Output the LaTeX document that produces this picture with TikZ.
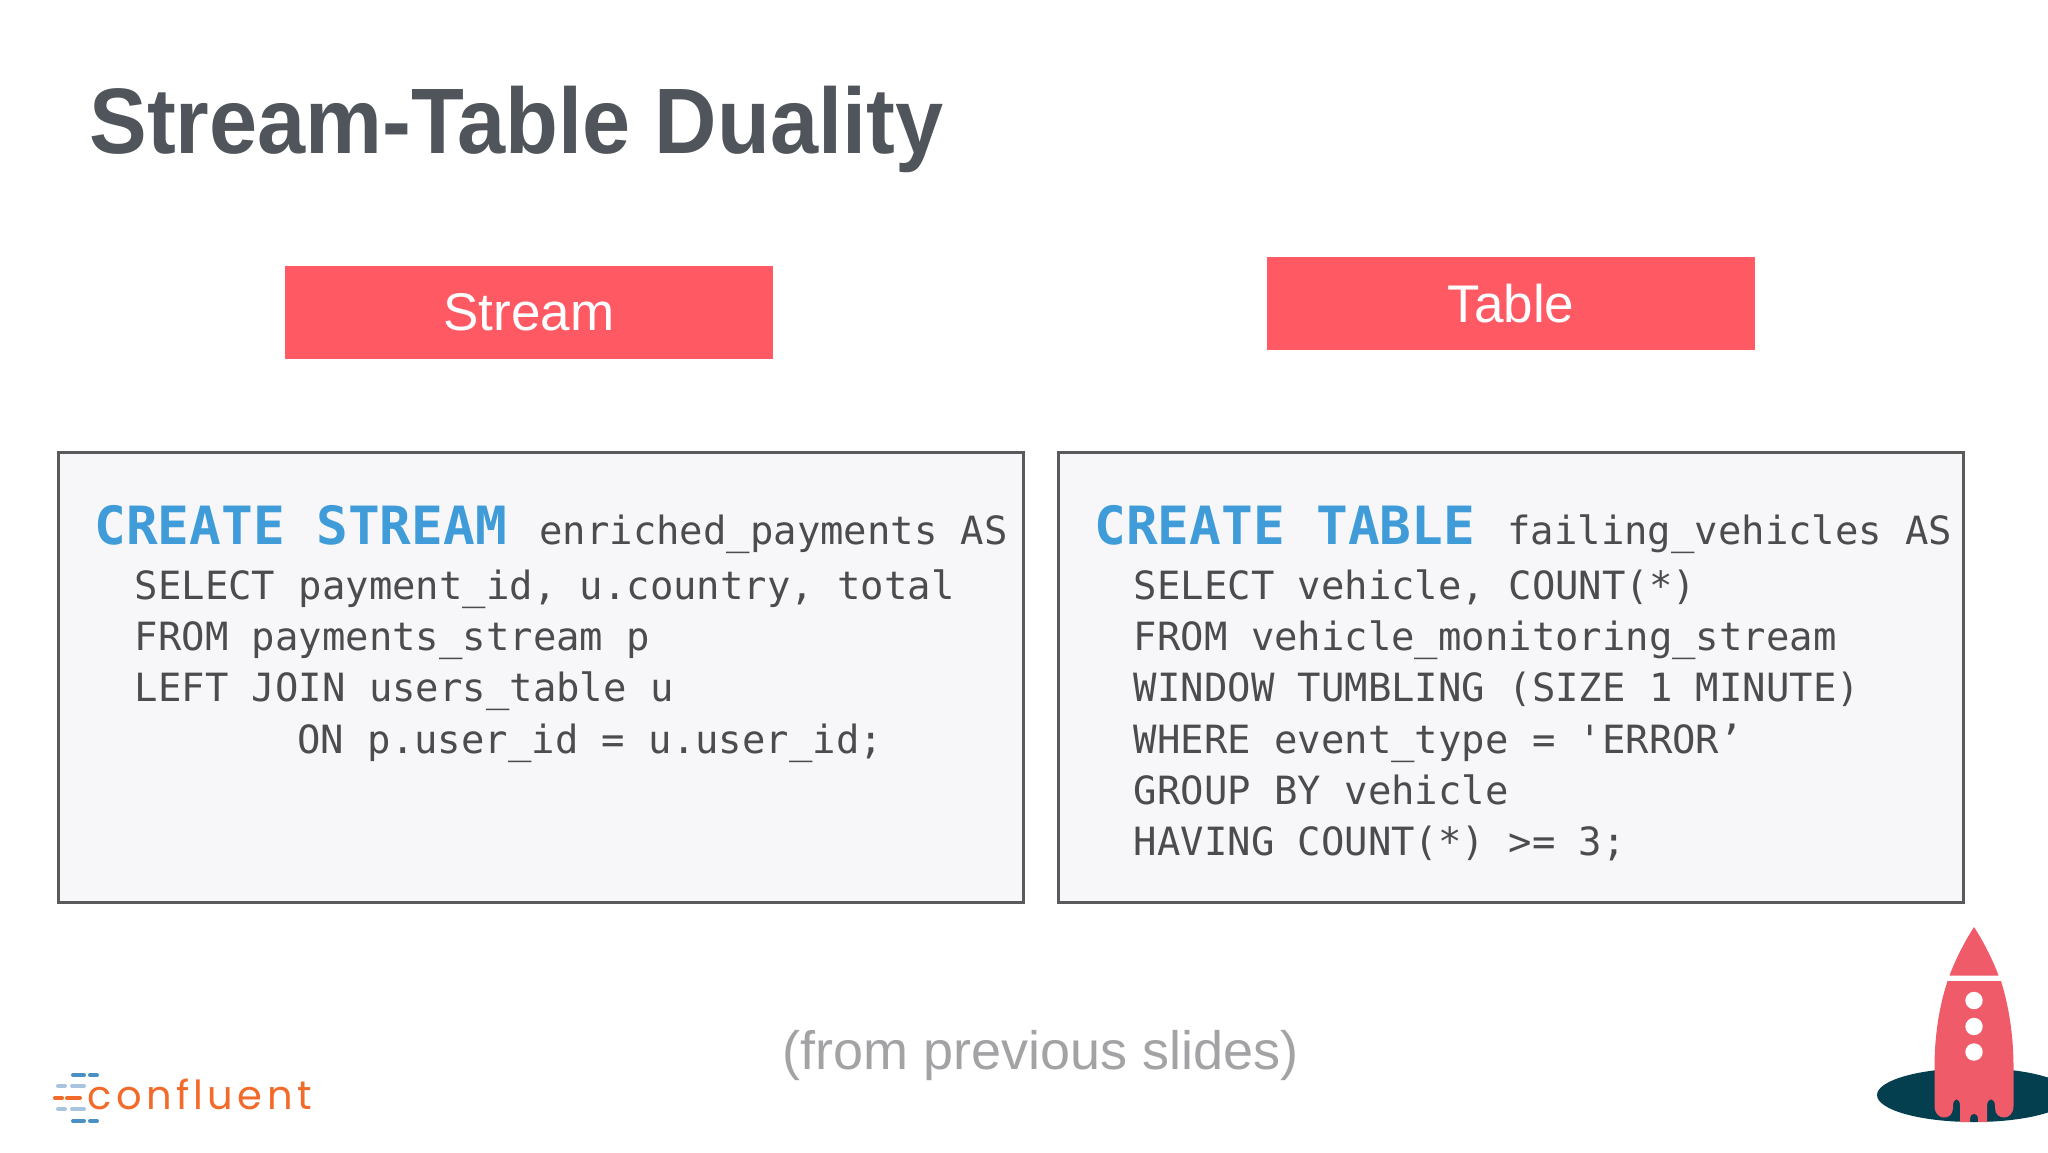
\documentclass[tikz,border=0pt]{standalone}
\usepackage{fontspec}
\setmainfont{Liberation Sans}
\setmonofont[Ligatures=NoCommon]{DejaVu Sans Mono}
\newfontfamily\logofont[LetterSpace=11]{Poppins}
\usetikzlibrary{positioning}
\definecolor{slidered}{HTML}{FF5964}
\definecolor{rocketred}{HTML}{F05B6A}
\definecolor{holeteal}{HTML}{033F4F}
\definecolor{panelgray}{HTML}{F7F7F9}
\definecolor{panelline}{HTML}{5A5A5C}
\definecolor{codegray}{HTML}{4C4C4E}
\definecolor{keyblue}{HTML}{3F9CD8}
\definecolor{titlegray}{HTML}{50555B}
\definecolor{notegray}{HTML}{A3A3A6}
\definecolor{logoorange}{HTML}{F26B2A}
\definecolor{logoblue}{HTML}{4A90C4}
\definecolor{logopale}{HTML}{A9C4E0}
\tikzstyle{banner} = [rectangle, fill=slidered, text=white, minimum width=244pt,
                 minimum height=46.5pt, font=\fontsize{26.5}{31}\selectfont]
\tikzstyle{panel} = [rectangle, draw=panelline, line width=1.5pt, fill=panelgray]
\tikzstyle{keyword} = [anchor=base west, inner sep=0pt, text=keyblue,
                 font=\ttfamily\bfseries\fontsize{26.35}{30}\selectfont]
\tikzstyle{code} = [anchor=base west, inner sep=0pt, text=codegray,
                 font=\ttfamily\fontsize{19.45}{24}\selectfont]
\tikzstyle{logodash} = [line width=2pt, line cap=round]
\begin{document}
\begin{tikzpicture}[x=0.5pt, y=-0.5pt]
\useasboundingbox (0,0) rectangle (2048,1152);
\fill[white] (0,0) rectangle (2048,1152);

\node [anchor=base west, inner sep=0pt, text=titlegray,
	font=\bfseries\fontsize{46.5}{52}\selectfont] (title) at (89,153) {\scalebox{0.93}[1]{Stream-Table Duality}};

\node [banner] (stream) at (529,312.5) {Stream};
\node [banner] (table) at (1511,303.5) {Table};

\node [panel, minimum width=482.5pt, minimum height=225pt] (left) at (541,677) {};
\node [panel, minimum width=452.5pt, minimum height=225pt] (right) at (1510.5,677) {};

%left panel
\node [keyword] (lkey) at (94,544) {CREATE STREAM};
\node [code] (lname) at (539,544) {enriched\_payments AS};
\foreach \y/\x/\name/\txt in {599/134.5/la/{SELECT payment\_id, u.country, total},
		650/134.5/lb/{FROM payments\_stream p},
		701.5/134.5/lc/{LEFT JOIN users\_table u},
		753/297/ld/{ON p.user\_id = u.user\_id;}}
	\node [code] (\name) at (\x,\y) {\txt};

%right panel
\node [keyword] (rkey) at (1094,544) {CREATE TABLE};
\node [code] (rname) at (1507,544) {failing\_vehicles AS};
\foreach \y/\name/\txt in {599/ra/{SELECT vehicle, COUNT(*)},
		650/rb/{FROM vehicle\_monitoring\_stream},
		701.5/rc/{WINDOW TUMBLING (SIZE 1 MINUTE)},
		753/rd/{WHERE event\_type = 'ERROR’},
		804/re/{GROUP BY vehicle},
		855.5/rf/{HAVING COUNT(*) >= 3;}}
	\node [code] (\name) at (1133.5,\y) {\txt};

\node [anchor=base, inner sep=0pt, text=notegray, font=\fontsize{27}{32}\selectfont] (note) at (1041,1069) {(from previous slides)};

%logo
\foreach \y/\col/\xa/\xb/\xc/\xd in {1075/logoblue/73/84/90/97,
		1086/logopale/58/65/72/84,
		1098/logoorange/55/62/67/80,
		1109/logopale/58/65/72/84,
		1121/logoblue/73/84/90/97}
{
	\draw [logodash, \col] (\xa,\y) -- (\xb,\y);
	\draw [logodash, \col] (\xc,\y) -- (\xd,\y);
}
\node [anchor=base west, inner sep=0pt, text=logoorange,
	font=\logofont\fontsize{20}{22}\selectfont] (logo) at (87,1109) {confluent};

%rocket
\begin{scope}
\clip (0,0) rectangle (2048,1152);
\fill [holeteal] (1974,1095) ellipse (97 and 27);
\end{scope}
\fill [rocketred] (1974,927) .. controls (1965,941) and (1956,958) .. (1949.5,975.5)
	-- (1998.5,975.5) .. controls (1992,958) and (1983,941) .. cycle;
\fill [rocketred] (1947.5,981) .. controls (1938,1010) and (1934.5,1040) .. (1934.5,1067)
	-- (1934.5,1106) .. controls (1934.5,1121) and (1953,1121) .. (1953,1108)
	-- (1953,1106) .. controls (1953,1097) and (1960,1097) .. (1960,1106)
	-- (1960,1122) -- (1970,1122) -- (1970,1119) .. controls (1970,1112) and (1978,1112) .. (1978,1119)
	-- (1978,1122) -- (1987,1122) -- (1987,1106) .. controls (1987,1097) and (1995,1097) .. (1995,1106)
	-- (1995,1108) .. controls (1995,1121) and (2013.5,1121) .. (2013.5,1106)
	-- (2013.5,1067) .. controls (2013.5,1040) and (2010,1010) .. (2001,981) -- cycle;
\foreach \y in {1000.5, 1026.5, 1052}
	\fill [white] (1974,\y) circle (8.7);
\end{tikzpicture}
\end{document}
